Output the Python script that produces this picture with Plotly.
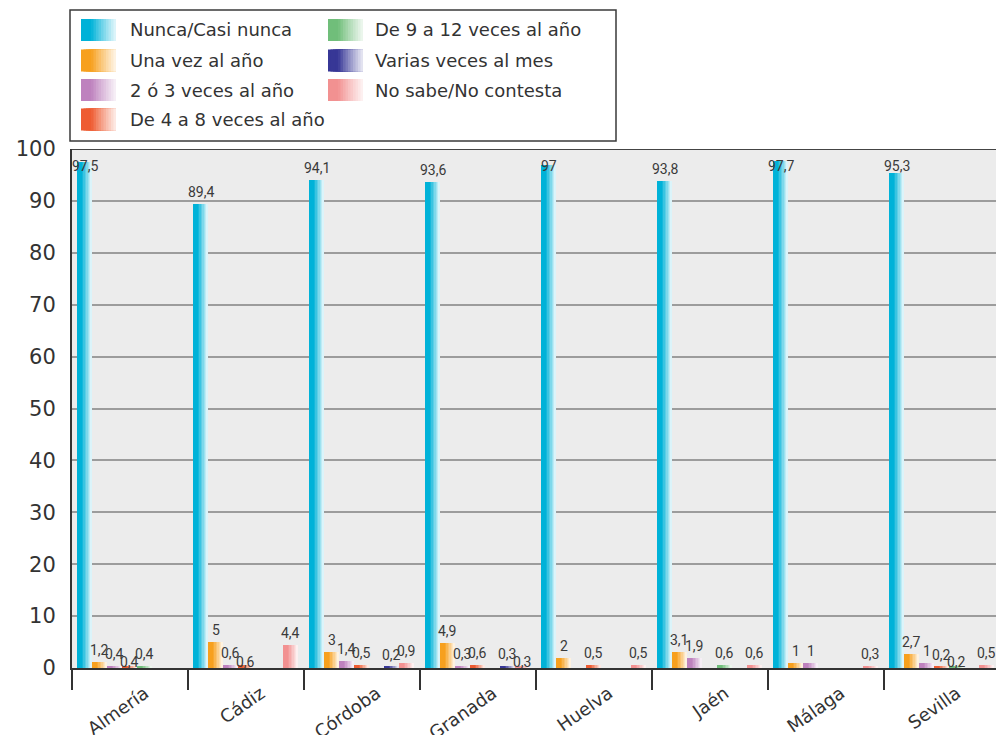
import plotly.graph_objects as go

# Provinces on the category axis and the seven answer categories
provinces = ["Almería", "Cádiz", "Córdoba", "Granada", "Huelva", "Jaén", "Málaga", "Sevilla"]
series_names = [
    "Nunca/Casi nunca",
    "Una vez al año",
    "2 ó 3 veces al año",
    "De 4 a 8 veces al año",
    "De 9 a 12 veces al año",
    "Varias veces al mes",
    "No sabe/No contesta",
]

# Percentages per province (None = no answer in that category)
nunca = [97.5, 89.4, 94.1, 93.6, 97, 93.8, 97.7, 95.3]
una_vez = [1.2, 5, 3, 4.9, 2, 3.1, 1, 2.7]
dos_tres = [0.4, 0.6, 1.4, 0.3, None, 1.9, 1, 1]
cuatro_ocho = [0.4, 0.6, 0.5, 0.6, 0.5, None, None, 0.2]
nueve_doce = [0.4, None, None, None, None, 0.6, None, 0.2]
varias_mes = [None, None, 0.2, 0.3, None, None, None, None]
ns_nc = [None, 4.4, 0.9, 0.3, 0.5, 0.6, 0.3, 0.5]

y_ticks = list(range(0, 101, 10))

series_values = [nunca, una_vez, dos_tres, cuatro_ocho, nueve_doce, varias_mes, ns_nc]
base_colors = [
    (0, 178, 216),
    (247, 160, 30),
    (190, 130, 190),
    (238, 92, 50),
    (112, 190, 122),
    (55, 55, 150),
    (242, 145, 145),
]

MAIN_FONT = "DejaVu Sans, sans-serif"
LABEL_FONT = "Liberation Sans Narrow, Roboto, sans-serif"

# Geometry (in x-axis units: one province group = 1 unit)
PLOT_L, PLOT_R, PLOT_T, PLOT_B = 72, 996, 149, 668
GROUP_PX = 116.0
BAR_W = 15.0 / GROUP_PX
FIRST_OFF = -0.5 + 5.0 / GROUP_PX
N_SLICES = 10


def fade(rgb, k, n):
    t = k / (n - 1)
    f = 0.0 if t < 0.28 else ((t - 0.28) / 0.72) ** 0.9 * 0.86
    r, g, b = (round(c + (255 - c) * f) for c in rgb)
    return f"rgb({r},{g},{b})"


def fmt(v):
    return f"{v:g}".replace(".", ",")


fig = go.Figure()

# Bars with a horizontal gradient: stacked, progressively narrower and lighter
for s, (vals, rgb) in enumerate(zip(series_values, base_colors)):
    xs = [i for i, v in enumerate(vals) if v is not None]
    ys = [v for v in vals if v is not None]
    off0 = FIRST_OFF + s * BAR_W
    for k in range(N_SLICES):
        frac = k / N_SLICES
        fig.add_trace(go.Bar(
            x=xs, y=ys,
            offset=off0 + frac * BAR_W,
            width=BAR_W * (1 - frac),
            marker=dict(color=fade(rgb, k, N_SLICES), line=dict(width=0)),
            showlegend=False,
            hoverinfo="skip" if k else "y",
            name=series_names[s],
        ))

# Value labels above the bars
annotations = []
for i in range(len(provinces)):
    prev_v, prev_nudged = None, False
    for s, vals in enumerate(series_values):
        v = vals[i]
        if v is None:
            prev_v, prev_nudged = None, False
            continue
        txt = fmt(v)
        nudged = (prev_v is not None and not prev_nudged
                  and abs(prev_v - v) < 1e-9 and "," in txt)
        xc = i + FIRST_OFF + (s + 0.5) * BAR_W
        if nudged:
            y, ysh = 0, -4
        else:
            y, ysh = min(v, 94.4), 2
        annotations.append(dict(
            x=xc, y=y, xref="x", yref="y", text=txt, showarrow=False,
            yanchor="bottom", yshift=ysh,
            font=dict(family=LABEL_FONT, size=14, color="#3a3a3a"),
        ))
        prev_v, prev_nudged = v, nudged

# Custom legend box with gradient swatches
plot_w = PLOT_R - PLOT_L
plot_h = PLOT_B - PLOT_T


def px(xp):
    return (xp - PLOT_L) / plot_w


def py(yp):
    return (PLOT_B - yp) / plot_h


shapes = [dict(type="rect", xref="paper", yref="paper",
               x0=px(70), x1=px(616), y0=py(141), y1=py(10),
               line=dict(color="#3a3a3a", width=1.5), fillcolor="white", layer="above")]

legend_cols = [(81, 128), (328, 373)]
row_top = [19, 49.5, 79, 108.5]
slots = [(0, 0), (0, 1), (0, 2), (0, 3), (1, 0), (1, 1), (1, 2)]
SW_W, SW_H = 35, 22
for s, (col, row) in enumerate(slots):
    sx, tx = legend_cols[col]
    ty = row_top[row]
    n = 14
    for k in range(n):
        shapes.append(dict(type="rect", xref="paper", yref="paper",
                           x0=px(sx + SW_W * k / n), x1=px(sx + SW_W),
                           y0=py(ty + SW_H), y1=py(ty),
                           line=dict(width=0), fillcolor=fade(base_colors[s], k, n),
                           layer="above"))
    annotations.append(dict(
        x=px(tx), y=py(ty + SW_H / 2), xref="paper", yref="paper",
        text=series_names[s], showarrow=False, xanchor="left", yanchor="middle",
        font=dict(family=MAIN_FONT, size=18, color="#333333"),
    ))

# Top frame line at 100
shapes.append(dict(type="line", xref="paper", yref="y", x0=0, x1=1, y0=100, y1=100,
                   line=dict(color="#444444", width=2), layer="above"))

fig.update_layout(
    width=996, height=735,
    margin=dict(l=PLOT_L, r=0, t=PLOT_T, b=735 - PLOT_B, autoexpand=False),
    barmode="overlay",
    bargap=0,
    paper_bgcolor="white",
    plot_bgcolor="#ececec",
    showlegend=False,
    shapes=shapes,
    annotations=annotations,
    xaxis=dict(
        range=[-0.5, -0.5 + plot_w / GROUP_PX],
        tickmode="array",
        tickvals=[i + 15.0 / GROUP_PX for i in range(len(provinces))],
        ticktext=provinces,
        tickangle=-35,
        ticks="",
        ticklabelstandoff=6,
        tickfont=dict(family=MAIN_FONT, size=18, color="#333333"),
        showgrid=False,
        zeroline=False,
        automargin=False,
        showline=True, linecolor="#333333", linewidth=2,
        minor=dict(tickmode="array", tickvals=[i - 0.5 for i in range(len(provinces))],
                   ticks="outside", ticklen=20, tickcolor="#333333", tickwidth=2,
                   showgrid=False),
        fixedrange=True,
    ),
    yaxis=dict(
        range=[0, 100],
        tickmode="array",
        tickvals=y_ticks,
        ticktext=[str(t) for t in y_ticks],
        tickfont=dict(family=MAIN_FONT, size=21, color="#333333"),
        ticks="",
        ticklabelstandoff=10,
        showgrid=True, gridcolor="#9c9c9c", gridwidth=1.5,
        zeroline=False,
        automargin=False,
        showline=True, linecolor="#333333", linewidth=2,
        fixedrange=True,
    ),
)

fig.write_html("out.html")
